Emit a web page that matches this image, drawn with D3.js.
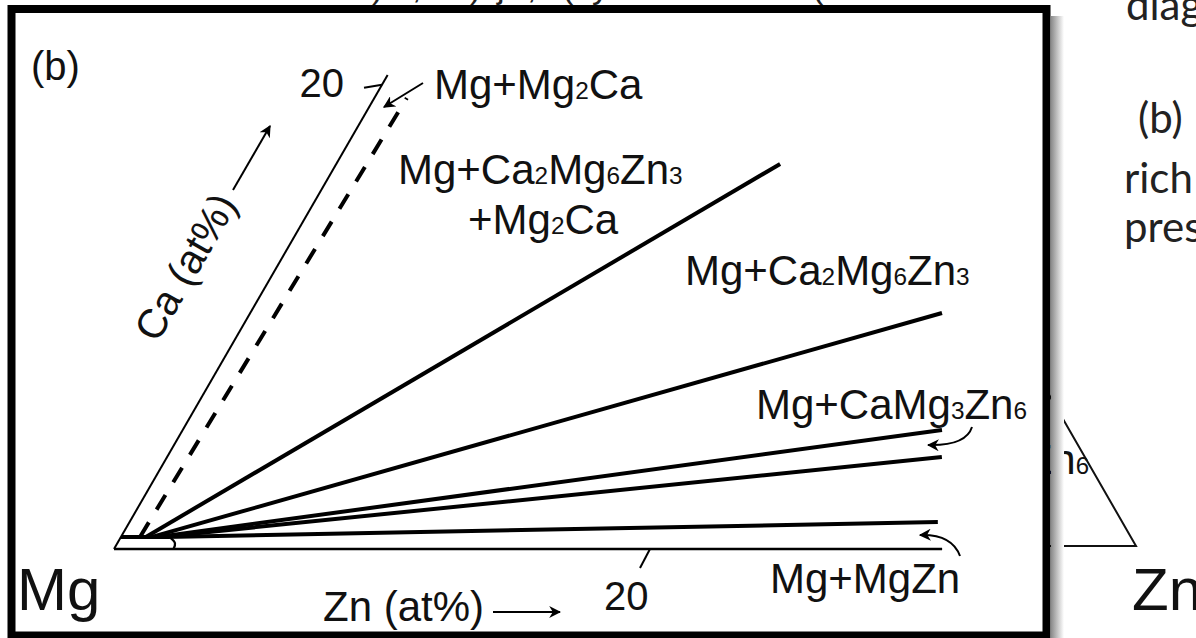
<!DOCTYPE html>
<html><head><meta charset="utf-8">
<script src="https://cdn.jsdelivr.net/npm/d3@7"></script>
<style>body{margin:0;background:#fff}svg{display:block}</style>
</head><body>
<svg id="c" width="1196" height="638"></svg>
<script>
// ---------------- data (at% Zn, at% Ca) ----------------
const tieNames   = ["Mg/Mg2Ca", "Mg2Ca/Ca2Mg6Zn3", "Ca2Mg6Zn3 limit", "CaMg3Zn6 upper", "CaMg3Zn6 lower", "MgZn limit"];
const tieStartZn = [0.71, 0.93, 1.16, 1.38, 1.46, 1.64];
const tieStartCa = [0.52, 0.52, 0.52, 0.52, 0.52, 0.52];
const tieEndZn   = [1.21, 16.56, 25.81, 28.33, 28.91, 30.16];
const tieEndCa   = [19.43, 16.59, 10.17, 5.13, 3.96, 1.16];
const tieDashed  = [true, false, false, false, false, false];
const solvusZn   = [0, 0, 1.80, 2.15, 2.22];
const solvusCa   = [0, 0.52, 0.52, 0.25, 0];
const axisMaxZn  = 30.9;
const axisMaxCa  = 20.42;
const tickValues = [20];
const tickLabels = ["20"];
const phaseLabels = ["Mg+Mg_2Ca", "Mg+Ca_2Mg_6Zn_3", "+Mg_2Ca", "Mg+Ca_2Mg_6Zn_3", "Mg+CaMg_3Zn_6", "Mg+MgZn"];
const slideWords = ["diag", "(b)", "rich", "pres"];
const cutGlyphs  = [")", ",", ")", "j", ",", "(", "y", "("];

// ---------------- layout ----------------
const W = 1196, H = 638;
const X0 = 114, Y0 = 549;
const s = d3.scaleLinear().domain([0, 20]).range([0, 536]);
const P = (z, c) => [X0 + s(z) + s(c) / 2, Y0 - s(c) * Math.sqrt(3) / 2];
const FONT = "'Liberation Sans', Arial, Helvetica, sans-serif";
const SLIDE = "Lato, 'Open Sans', sans-serif";

const svg = d3.select("#c");
const defs = svg.append("defs");
defs.append("marker").attr("id", "ah").attr("viewBox", "0 0 10 10")
  .attr("refX", 9).attr("refY", 5).attr("markerWidth", 12).attr("markerHeight", 12)
  .attr("markerUnits", "userSpaceOnUse").attr("orient", "auto")
  .append("path").attr("d", "M0,0 L10,5 L0,10 L3,5 Z").attr("fill", "#000");
const sg = defs.append("linearGradient").attr("id", "shadow");
sg.append("stop").attr("offset", "0").attr("stop-color", "#8a8a8a");
sg.append("stop").attr("offset", "1").attr("stop-color", "#ffffff");

svg.append("rect").attr("width", W).attr("height", H).attr("fill", "#fff");

// --------- background slide (outside frame) ---------
const bg = svg.append("g");
bg.append("path").attr("d", `M1040,379 L1136,546 L1040,546`).attr("fill", "none")
  .attr("stroke", "#111").attr("stroke-width", 2);
const n6 = bg.append("text").attr("x", 1089).attr("y", 474).attr("text-anchor", "end")
  .attr("font-family", FONT).attr("font-size", 42).attr("fill", "#111");
n6.append("tspan").text("Zn");
n6.append("tspan").attr("font-size", 24).text("6");
bg.append("text").attr("x", 1132).attr("y", 610).attr("font-family", FONT)
  .attr("font-size", 60).attr("fill", "#111").text("Zn");
const slidePos = [[1126, 20], [1138, 133], [1124, 193], [1124, 242]];
slideWords.forEach((w, i) => bg.append("text").attr("x", slidePos[i][0]).attr("y", slidePos[i][1])
  .attr("font-family", SLIDE).attr("font-size", 42).attr("fill", "#222").text(w));
// glyph tails of a caption line cut off above the frame
const cutX = [372, 412, 470, 497, 527, 562, 592, 812];
cutGlyphs.forEach((ch, i) => bg.append("text").attr("x", cutX[i]).attr("y", -2)
  .attr("font-family", FONT).attr("font-size", 34).attr("fill", "#222").text(ch));

// --------- frame ---------
svg.append("rect").attr("x", 1051).attr("y", 16).attr("width", 13).attr("height", H - 16)
  .attr("fill", "url(#shadow)");
svg.append("rect").attr("x", 11.5).attr("y", 9).attr("width", 1035).attr("height", 626.5)
  .attr("fill", "#fff").attr("stroke", "#000").attr("stroke-width", 8);

const g = svg.append("g");
const line = d3.line();

// axes
g.append("path").attr("d", line([P(0, 0), P(axisMaxZn, 0)])).attr("stroke", "#000")
  .attr("stroke-width", 2.3).attr("fill", "none");
g.append("path").attr("d", line([P(0, 0), P(0, axisMaxCa)])).attr("stroke", "#000")
  .attr("stroke-width", 2).attr("fill", "none");

// ticks
tickValues.forEach((v, i) => {
  const a = P(0, v);
  g.append("path").attr("d", line([a, [a[0] - 18, a[1] + 3]])).attr("stroke", "#000").attr("stroke-width", 2);
  const b = P(v, 0);
  g.append("path").attr("d", line([b, [b[0] - 10, b[1] + 19]])).attr("stroke", "#000").attr("stroke-width", 2);
  g.append("text").attr("x", a[0] - 38).attr("y", a[1] + 12).attr("text-anchor", "end")
    .attr("font-family", FONT).attr("font-size", 40).attr("fill", "#111").text(tickLabels[i]);
  g.append("text").attr("x", b[0] - 46).attr("y", b[1] + 61)
    .attr("font-family", FONT).attr("font-size", 40).attr("fill", "#111").text(tickLabels[i]);
});

// Mg solid-solution region
const sol = solvusZn.map((z, i) => P(z, solvusCa[i]));
g.append("path").attr("d", line([sol[1], sol[2]])).attr("stroke", "#000").attr("stroke-width", 4)
  .attr("fill", "none");
g.append("path").attr("d", d3.line().curve(d3.curveCatmullRom)(sol.slice(2)))
  .attr("stroke", "#000").attr("stroke-width", 2.3).attr("fill", "none");

// tie lines
tieNames.forEach((n, i) => {
  g.append("path").attr("d", line([P(tieStartZn[i], tieStartCa[i]), P(tieEndZn[i], tieEndCa[i])]))
    .attr("stroke", "#000").attr("stroke-width", 4).attr("fill", "none")
    .attr("stroke-dasharray", tieDashed[i] ? "17,15" : null);
});

// labels with subscripts
function rich(x, y, str, size) {
  const t = g.append("text").attr("x", x).attr("y", y).attr("font-family", FONT)
    .attr("font-size", size).attr("fill", "#111");
  str.split(/(_\d)/).forEach(p => {
    if (!p) return;
    if (p[0] === "_") t.append("tspan").attr("font-size", size * 0.58).text(p.slice(1));
    else t.append("tspan").text(p);
  });
  return t;
}
const labelPos = [[434, 99], [398, 184], [468, 234], [685, 285], [756, 419], [770, 593]];
phaseLabels.forEach((l, i) => rich(labelPos[i][0], labelPos[i][1], l, 42));

rich(31, 80, "(b)", 40);
g.append("text").attr("x", 17).attr("y", 610).attr("font-family", FONT).attr("font-size", 60)
  .attr("fill", "#111").text("Mg");
g.append("text").attr("x", 323).attr("y", 621).attr("font-family", FONT).attr("font-size", 42)
  .attr("fill", "#111").text("Zn (at%)");
g.append("path").attr("d", line([[493, 612], [560, 612]])).attr("stroke", "#000").attr("stroke-width", 2)
  .attr("marker-end", "url(#ah)");
g.append("text").attr("transform", "translate(226,197) rotate(-60)").attr("text-anchor", "end")
  .attr("dominant-baseline", "central").attr("font-family", FONT).attr("font-size", 41)
  .attr("fill", "#111").text("Ca (at%)");
g.append("path").attr("d", line([[233, 190], [270, 126]])).attr("stroke", "#000").attr("stroke-width", 2)
  .attr("marker-end", "url(#ah)");

// pointer arrows
g.append("path").attr("d", line([[423, 83], [384, 107]])).attr("stroke", "#000").attr("stroke-width", 2)
  .attr("marker-end", "url(#ah)");
const c1 = d3.path(); c1.moveTo(972, 427); c1.quadraticCurveTo(966, 446, 928, 445);
g.append("path").attr("d", c1.toString()).attr("stroke", "#000").attr("stroke-width", 2)
  .attr("fill", "none").attr("marker-end", "url(#ah)");
const c2 = d3.path(); c2.moveTo(960, 556); c2.quadraticCurveTo(952, 534, 920, 535);
g.append("path").attr("d", c2.toString()).attr("stroke", "#000").attr("stroke-width", 2)
  .attr("fill", "none").attr("marker-end", "url(#ah)");
</script>
</body></html>
